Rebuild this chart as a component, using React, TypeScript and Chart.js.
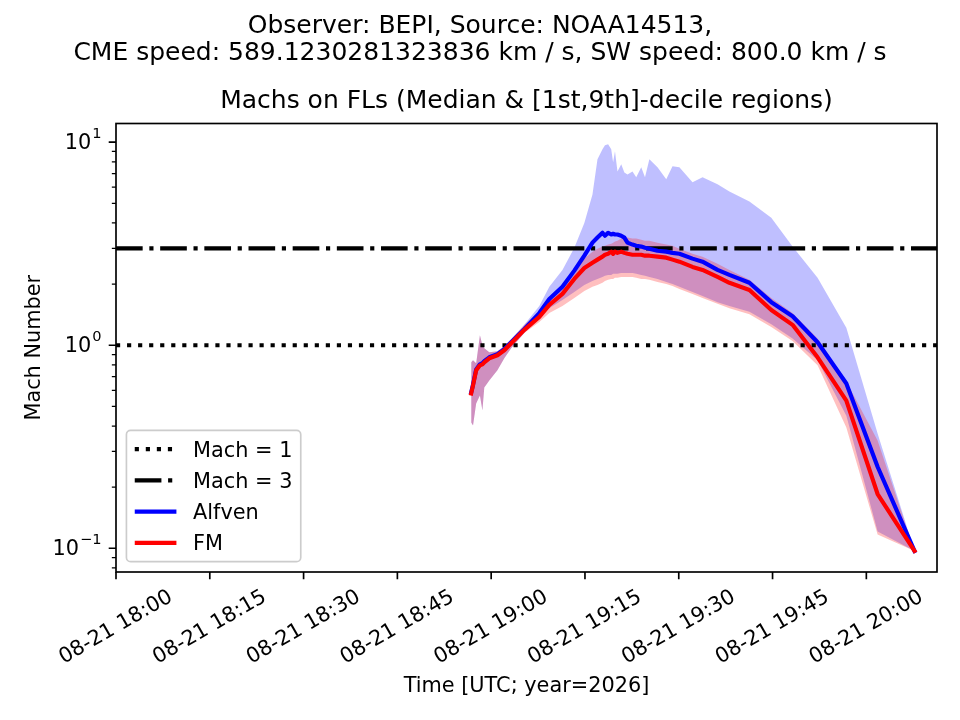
import React, { useEffect, useRef } from 'react';
import { Chart, registerables } from 'chart.js';

Chart.register(...registerables);

// time axis: minutes after 2026-08-21 18:00 UTC
const timeMinutes = [
  56.8, 57.1, 57.6, 58.2, 58.6, 58.9, 59.7, 61.0, 62.1, 63.2,
  65.3, 67.7, 69.3, 71.4, 73.3, 74.9, 76.2, 77.0, 77.8, 78.2,
  78.7, 79.2, 79.5, 79.8, 80.2, 80.8, 81.3, 81.8, 82.6, 83.2,
  84.0, 84.6, 85.3, 86.6, 88.0, 89.0, 90.1, 92.2, 93.8, 96.2,
  98.1, 101.3, 104.8, 108.2, 112.2, 116.8, 121.8, 127.7,
];

const alfvenMedian = [
  0.585, 0.641, 0.76, 0.805, 0.815, 0.834, 0.872, 0.903, 0.955, 1.035,
  1.2, 1.44, 1.69, 1.94, 2.33, 2.76, 3.2, 3.39, 3.58, 3.46,
  3.58, 3.51, 3.54, 3.51, 3.51, 3.46, 3.39, 3.2, 3.13, 3.09,
  3.06, 3.02, 2.99, 2.92, 2.89, 2.85, 2.82, 2.67, 2.58, 2.35,
  2.22, 2.03, 1.63, 1.39, 1.035, 0.648, 0.252, 0.097,
];
const alfvenUpper = [
  0.824, 0.843, 0.815, 1.12, 1.0, 0.966, 0.923, 0.934, 0.99, 1.07,
  1.26, 1.56, 1.94, 2.35, 3.02, 4.0, 5.53, 8.24, 9.23, 9.67,
  9.78, 9.23, 7.96, 9.02, 7.18, 7.78, 7.1, 6.94, 7.18, 6.71,
  7.52, 6.71, 8.24, 7.52, 6.56, 7.61, 7.52, 6.34, 6.71, 6.2,
  5.72, 5.1, 4.25, 3.06, 2.15, 1.22, 0.367, 0.097,
];
const alfvenLower = [
  0.416, 0.402, 0.516, 0.566, 0.477, 0.62, 0.671, 0.752, 0.862, 0.966,
  1.15, 1.36, 1.52, 1.67, 1.83, 1.98, 2.07, 2.12, 2.17, 2.2,
  2.22, 2.22, 2.25, 2.25, 2.25, 2.27, 2.27, 2.27, 2.27, 2.25,
  2.22, 2.2, 2.17, 2.12, 2.05, 2.0, 1.94, 1.83, 1.75, 1.63,
  1.56, 1.46, 1.27, 1.08, 0.843, 0.45, 0.121, 0.097,
];

const fmMedian = [
  0.578, 0.634, 0.752, 0.796, 0.805, 0.824, 0.862, 0.892, 0.944, 1.023,
  1.19, 1.38, 1.58, 1.79, 2.12, 2.4, 2.55, 2.64, 2.73, 2.79,
  2.82, 2.89, 2.82, 2.89, 2.85, 2.89, 2.85, 2.82, 2.79, 2.79,
  2.79, 2.76, 2.76, 2.73, 2.7, 2.64, 2.58, 2.43, 2.35, 2.17,
  2.03, 1.87, 1.49, 1.26, 0.872, 0.534, 0.185, 0.097,
];
const fmUpper = [
  0.824, 0.843, 0.815, 1.12, 1.0, 0.966, 0.923, 0.934, 0.99, 1.07,
  1.26, 1.47, 1.67, 1.92, 2.25, 2.67, 2.89, 2.99, 3.06, 3.09,
  3.13, 3.16, 3.2, 3.24, 3.27, 3.35, 3.39, 3.39, 3.35, 3.35,
  3.31, 3.27, 3.27, 3.2, 3.13, 3.09, 2.99, 2.82, 2.73, 2.52,
  2.35, 2.1, 1.71, 1.44, 1.08, 0.663, 0.339, 0.097,
];
const fmLower = [
  0.416, 0.402, 0.516, 0.566, 0.477, 0.62, 0.671, 0.752, 0.862, 0.966,
  1.15, 1.3, 1.44, 1.56, 1.71, 1.85, 1.94, 1.98, 2.03, 2.07,
  2.1, 2.12, 2.12, 2.15, 2.15, 2.17, 2.17, 2.17, 2.17, 2.15,
  2.12, 2.12, 2.1, 2.05, 2.0, 1.96, 1.89, 1.79, 1.71, 1.6,
  1.52, 1.42, 1.23, 1.05, 0.796, 0.393, 0.117, 0.097,
];

const machLevels = [1, 3];

const xRange = [0, 131.3];
const yRange = [0.0764, 12.36];
const xTickMinutes = [0, 15, 30, 45, 60, 75, 90, 105, 120];
const xTickLabels = [
  '08-21 18:00', '08-21 18:15', '08-21 18:30', '08-21 18:45', '08-21 19:00',
  '08-21 19:15', '08-21 19:30', '08-21 19:45', '08-21 20:00',
];
const yMajorTicks = [0.1, 1, 10];
const yMajorExponents = ['\u22121', '0', '1'];
const yMinorTicks = [
  0.08, 0.09, 0.2, 0.3, 0.4, 0.5, 0.6, 0.7, 0.8, 0.9,
  2, 3, 4, 5, 6, 7, 8, 9,
];

const legendLabels = ['Mach = 1', 'Mach = 3', 'Alfven', 'FM'];
const suptitleLines = [
  'Observer: BEPI, Source: NOAA14513,',
  'CME speed: 589.1230281323836 km / s, SW speed: 800.0 km / s',
];
const axesTitle = 'Machs on FLs (Median & [1st,9th]-decile regions)';
const xLabel = 'Time [UTC; year=2026]';
const yLabel = 'Mach Number';

const PT = 150 / 72; // matplotlib points -> px at 150 dpi
const FONT = '"DejaVu Sans", sans-serif';
const LW = 2 * PT;

const toPoints = (vals: number[]) => timeMinutes.map((t, i) => ({ x: t, y: vals[i] }));
const hline = (level: number) => [
  { x: xRange[0], y: level },
  { x: xRange[1], y: level },
];

// legend handles refer to these dataset indices
const legendDatasetIdx = [4, 5, 6, 7];

const decorPlugin = {
  id: 'decor',
  afterDraw(chart: any) {
    const { ctx, chartArea: a, scales } = chart;
    const xs = scales.x;
    const ys = scales.y;
    const fs = 10 * PT;
    ctx.save();

    // spines
    ctx.strokeStyle = '#000';
    ctx.lineWidth = 0.8 * PT;
    ctx.setLineDash([]);
    ctx.strokeRect(a.left, a.top, a.right - a.left, a.bottom - a.top);

    // x ticks + labels
    ctx.beginPath();
    xTickMinutes.forEach((m) => {
      const px = xs.getPixelForValue(m);
      ctx.moveTo(px, a.bottom);
      ctx.lineTo(px, a.bottom + 3.5 * PT);
    });
    ctx.stroke();

    ctx.fillStyle = '#000';
    ctx.font = `${fs}px ${FONT}`;
    const theta = (30 * Math.PI) / 180;
    xTickMinutes.forEach((m, i) => {
      const label = xTickLabels[i];
      const px = xs.getPixelForValue(m);
      const w = ctx.measureText(label).width;
      const h = fs;
      const bh = w * Math.sin(theta) + h * Math.cos(theta);
      const cy = a.bottom + 7 * PT + bh / 2;
      ctx.save();
      ctx.translate(px, cy);
      ctx.rotate(-theta);
      ctx.textAlign = 'center';
      ctx.textBaseline = 'alphabetic';
      ctx.fillText(label, 0, 0.26 * fs);
      ctx.restore();
    });

    // y ticks
    ctx.beginPath();
    ctx.lineWidth = 0.8 * PT;
    yMajorTicks.forEach((v) => {
      const py = ys.getPixelForValue(v);
      ctx.moveTo(a.left, py);
      ctx.lineTo(a.left - 3.5 * PT, py);
    });
    ctx.stroke();
    ctx.beginPath();
    ctx.lineWidth = 0.6 * PT;
    yMinorTicks.forEach((v) => {
      const py = ys.getPixelForValue(v);
      ctx.moveTo(a.left, py);
      ctx.lineTo(a.left - 2 * PT, py);
    });
    ctx.stroke();

    // y tick labels 10^n
    const right = a.left - 7 * PT;
    yMajorTicks.forEach((v, i) => {
      const py = ys.getPixelForValue(v);
      const exp = yMajorExponents[i];
      ctx.textAlign = 'right';
      ctx.textBaseline = 'alphabetic';
      ctx.font = `${fs * 0.7}px ${FONT}`;
      const ew = ctx.measureText(exp).width;
      ctx.fillText(exp, right, py - 4);
      ctx.font = `${fs}px ${FONT}`;
      ctx.fillText('10', right - ew - 1, py + 7);
    });

    // titles and axis labels
    ctx.textAlign = 'center';
    ctx.textBaseline = 'alphabetic';
    ctx.font = `${12 * PT}px ${FONT}`;
    ctx.fillText(suptitleLines[0], chart.width / 2, 33);
    ctx.fillText(suptitleLines[1], chart.width / 2, 60);
    ctx.fillText(axesTitle, (a.left + a.right) / 2, 108);
    ctx.font = `${fs}px ${FONT}`;
    ctx.fillText(xLabel, (a.left + a.right) / 2, 692);
    ctx.save();
    ctx.translate(40, (a.top + a.bottom) / 2);
    ctx.rotate(-Math.PI / 2);
    ctx.fillText(yLabel, 0, 0);
    ctx.restore();

    // legend (lower left, inside axes)
    ctx.font = `${fs}px ${FONT}`;
    const textW = Math.max(...legendLabels.map((l) => ctx.measureText(l).width));
    const boxL = a.left + 0.5 * fs;
    const boxB = a.bottom - 0.5 * fs;
    const boxW = 0.4 * fs + 2 * fs + 0.8 * fs + textW + 0.4 * fs;
    const boxH = 6.3 * fs;
    const boxT = boxB - boxH;
    ctx.beginPath();
    ctx.roundRect(boxL, boxT, boxW, boxH, 0.2 * fs);
    ctx.fillStyle = 'rgba(255,255,255,0.8)';
    ctx.fill();
    ctx.strokeStyle = '#cccccc';
    ctx.lineWidth = 1 * PT * 0.8;
    ctx.stroke();

    legendLabels.forEach((label, i) => {
      const ds = chart.data.datasets[legendDatasetIdx[i]];
      const cy = boxT + 0.9 * fs + i * 1.5 * fs;
      const hx = boxL + 0.4 * fs;
      ctx.beginPath();
      ctx.strokeStyle = ds.borderColor;
      ctx.lineWidth = ds.borderWidth;
      ctx.lineCap = 'butt';
      ctx.setLineDash(ds.borderDash || []);
      ctx.moveTo(hx, cy);
      ctx.lineTo(hx + 2 * fs, cy);
      ctx.stroke();
      ctx.setLineDash([]);
      ctx.fillStyle = '#000';
      ctx.textAlign = 'left';
      ctx.textBaseline = 'alphabetic';
      ctx.fillText(label, hx + 2.8 * fs, cy + 0.365 * fs);
    });

    ctx.restore();
  },
};

const App: React.FC = () => {
  const canvasRef = useRef<HTMLCanvasElement>(null);

  useEffect(() => {
    if (!canvasRef.current) return;
    const band = (vals: number[], color: string, fill: any, order: number) => ({
      data: toPoints(vals),
      borderColor: 'rgba(0,0,0,0)',
      borderWidth: 0,
      backgroundColor: color,
      fill,
      pointRadius: 0,
      order,
    });

    const chart = new Chart(canvasRef.current, {
      type: 'line',
      data: {
        datasets: [
          band(alfvenUpper, 'rgba(0,0,255,0.25)', '+1', 10),
          band(alfvenLower, 'rgba(0,0,0,0)', false, 10),
          band(fmUpper, 'rgba(255,0,0,0.25)', '+1', 9),
          band(fmLower, 'rgba(0,0,0,0)', false, 9),
          {
            data: hline(machLevels[0]),
            borderColor: '#000',
            borderWidth: LW,
            borderDash: [1 * LW, 1.65 * LW],
            borderCapStyle: 'butt',
            pointRadius: 0,
            fill: false,
            order: 5,
          },
          {
            data: hline(machLevels[1]),
            borderColor: '#000',
            borderWidth: LW,
            borderDash: [6.4 * LW, 1.6 * LW, 1 * LW, 1.6 * LW],
            borderCapStyle: 'butt',
            pointRadius: 0,
            fill: false,
            order: 5,
          },
          {
            data: toPoints(alfvenMedian),
            borderColor: '#0000ff',
            borderWidth: LW,
            borderJoinStyle: 'round',
            borderCapStyle: 'square',
            pointRadius: 0,
            fill: false,
            order: 2,
          },
          {
            data: toPoints(fmMedian),
            borderColor: '#ff0000',
            borderWidth: LW,
            borderJoinStyle: 'round',
            borderCapStyle: 'square',
            pointRadius: 0,
            fill: false,
            order: 1,
          },
        ] as any,
      },
      options: {
        animation: false,
        responsive: false,
        events: [],
        layout: { padding: { left: 116, right: 23, top: 123.5, bottom: 148 } },
        elements: { line: { tension: 0 } },
        plugins: {
          legend: { display: false },
          tooltip: { enabled: false },
          title: { display: false },
        },
        scales: {
          x: { type: 'linear', display: false, min: xRange[0], max: xRange[1] },
          y: { type: 'logarithmic', display: false, min: yRange[0], max: yRange[1] },
        },
      },
      plugins: [decorPlugin],
    });

    return () => {
      chart.destroy();
    };
  }, []);

  return (
    <div style={{ position: 'absolute', left: 0, top: 0, width: 960, height: 720, background: '#fff' }}>
      <canvas ref={canvasRef} width={960} height={720} />
    </div>
  );
};

export default App;
